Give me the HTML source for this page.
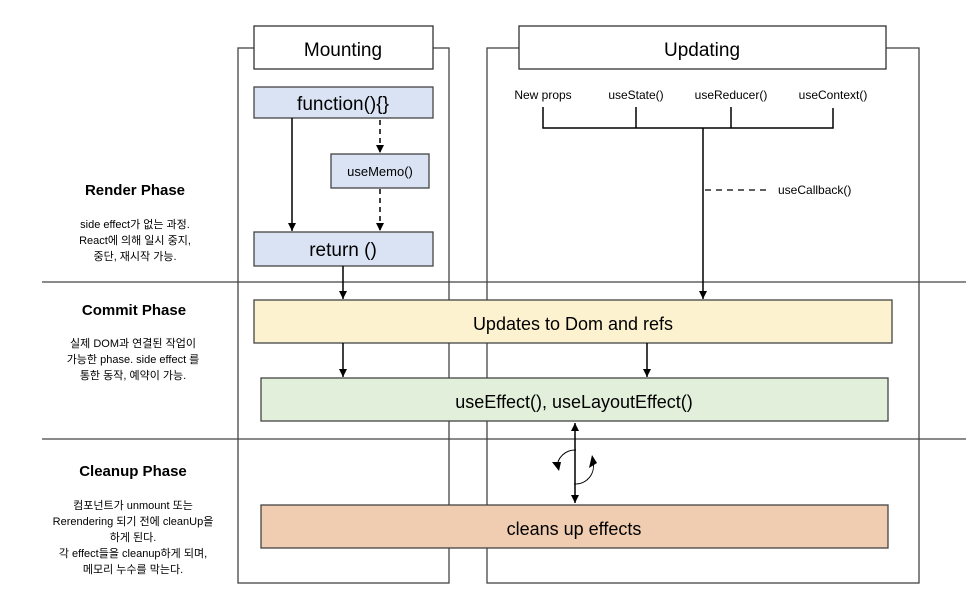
<!DOCTYPE html>
<html><head><meta charset="utf-8"><style>
body{margin:0;background:#fff;}
svg text{font-family:"Liberation Sans","Noto Sans CJK KR",sans-serif;fill:#000;}
</style></head><body>
<svg width="966" height="607" viewBox="0 0 966 607" xmlns="http://www.w3.org/2000/svg">
<defs><marker id="a" markerWidth="8" markerHeight="8" refX="4" refY="7" orient="auto" markerUnits="userSpaceOnUse"><path d="M0,0 L8,0 L4,8 z" transform="rotate(0)" fill="#000"/></marker>
<marker id="ah" viewBox="0 0 8 8" markerWidth="8" markerHeight="8" refX="8" refY="4" orient="auto-start-reverse" markerUnits="userSpaceOnUse"><path d="M0,0 L8,4 L0,8 z" fill="#000"/></marker></defs>
<g stroke="#444" stroke-width="1.3" fill="none">
<line x1="42" y1="282" x2="966" y2="282"/>
<line x1="42" y1="439" x2="966" y2="439"/>
<rect x="238" y="48" width="211" height="535"/>
<rect x="487" y="48" width="432" height="535"/>
</g>
<rect x="254" y="26" width="179" height="43" fill="#fff" stroke="#333" stroke-width="1.3"/>
<rect x="519" y="26" width="367" height="43" fill="#fff" stroke="#333" stroke-width="1.3"/>
<text x="343" y="56" font-size="19" text-anchor="middle">Mounting</text>
<text x="702" y="56" font-size="19" text-anchor="middle">Updating</text>
<g stroke="#444" stroke-width="1.3">
<rect x="254" y="87" width="179" height="31" fill="#dae3f3"/>
<rect x="331" y="154" width="98" height="34" fill="#dae3f3"/>
<rect x="254" y="232" width="179" height="34" fill="#dae3f3"/>
<rect x="254" y="300" width="638" height="43" fill="#fdf2d0"/>
<rect x="261" y="378" width="627" height="43" fill="#e2efda"/>
<rect x="261" y="505" width="627" height="43" fill="#f0cdb0"/>
</g>
<text x="343" y="110" font-size="19" text-anchor="middle">function(){}</text>
<text x="380" y="176" font-size="13" text-anchor="middle">useMemo()</text>
<text x="343" y="256" font-size="19" text-anchor="middle">return ()</text>
<text x="573" y="330" font-size="18" text-anchor="middle">Updates to Dom and refs</text>
<text x="574" y="408" font-size="18" text-anchor="middle">useEffect(),  useLayoutEffect()</text>
<text x="574" y="535" font-size="18" text-anchor="middle">cleans up effects</text>
<g stroke="#000" stroke-width="1.5" fill="none">
<line x1="292" y1="118" x2="292" y2="231" marker-end="url(#ah)"/>
<line x1="380" y1="120" x2="380" y2="153" stroke-dasharray="5,4" marker-end="url(#ah)"/>
<line x1="380" y1="189" x2="380" y2="231" stroke-dasharray="5,4" marker-end="url(#ah)"/>
<line x1="343" y1="266" x2="343" y2="299" marker-end="url(#ah)"/>
<line x1="343" y1="343" x2="343" y2="377" marker-end="url(#ah)"/>
<line x1="647" y1="343" x2="647" y2="377" marker-end="url(#ah)"/>
<polyline points="543,107 543,128 833,128 833,108"/>
<line x1="636" y1="107" x2="636" y2="128"/>
<line x1="731" y1="107" x2="731" y2="128"/>
<line x1="703" y1="128" x2="703" y2="299" marker-end="url(#ah)"/>
<line x1="705" y1="190" x2="770" y2="190" stroke-dasharray="6,5" stroke-width="1.2"/>
<line x1="575" y1="423" x2="575" y2="503" marker-start="url(#ah)" marker-end="url(#ah)"/>
<path d="M557,468 A18,18 0 0 1 576,450" stroke-width="1"/>
<path d="M593,462 A18,18 0 0 1 574,484" stroke-width="1"/>
</g>
<path d="M552,462 l9,0 l-2,9 z" fill="#000"/>
<path d="M589,468 l8,-5 l-5,-8 z" fill="#000"/>
<g font-size="12">
<text x="543" y="99" text-anchor="middle">New props</text>
<text x="636" y="99" text-anchor="middle">useState()</text>
<text x="731" y="99" text-anchor="middle">useReducer()</text>
<text x="833" y="99" text-anchor="middle">useContext()</text>
<text x="778" y="194">useCallback()</text>
</g>
<g text-anchor="middle">
<text x="135" y="195" font-size="15" font-weight="bold">Render Phase</text>
<text x="134" y="315" font-size="15" font-weight="bold">Commit Phase</text>
<text x="133" y="476" font-size="15" font-weight="bold">Cleanup Phase</text>
<g font-size="11">
<text x="135" y="228">side effect가 없는 과정.</text>
<text x="135" y="244">React에 의해 일시 중지,</text>
<text x="135" y="260">중단, 재시작 가능.</text>
<text x="133" y="347">실제 DOM과 연결된 작업이</text>
<text x="133" y="363">가능한 phase. side effect 를</text>
<text x="133" y="379">통한 동작, 예약이 가능.</text>
<text x="133" y="509">컴포넌트가 unmount 또는</text>
<text x="133" y="525">Rerendering 되기 전에 cleanUp을</text>
<text x="133" y="541">하게 된다.</text>
<text x="133" y="557">각 effect들을 cleanup하게 되며,</text>
<text x="133" y="573">메모리 누수를 막는다.</text>
</g></g>
</svg>
</body></html>
